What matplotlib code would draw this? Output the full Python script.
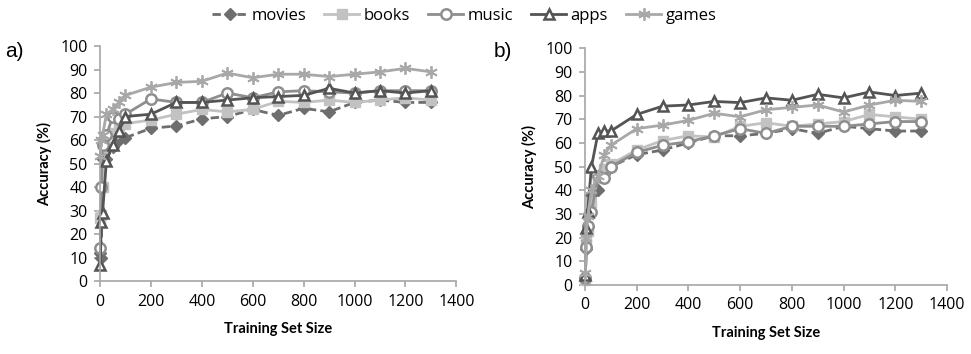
import matplotlib
matplotlib.use("Agg")
import matplotlib.pyplot as plt

# training set sizes shared by both panels
sizes = [1, 5, 10, 25, 50, 75, 100, 200, 300, 400, 500, 600, 700, 800, 900,
         1000, 1100, 1200, 1300]

# panel a)
a_movies = [12, 10, 52, 52, 57, 60, 61, 65, 66, 69, 70, 73, 70.5, 73.5, 72, 76, 77, 76, 76]
a_books = [27, 28, 40, 57, 63, 66, 67, 68.5, 71, 73, 72, 73, 76.5, 76, 77, 76, 77, 78, 77]
a_music = [14, 40, 58, 62, 70, 69, 71, 77.5, 76, 76, 80, 78, 80.5, 81, 80.5, 80, 81, 81, 81]
a_apps = [7, 25, 29, 51, 58, 64, 70, 71, 76, 76, 77, 78, 78.5, 79, 82, 80, 81, 80, 81]
a_games = [53, 60, 62, 71, 73, 76, 79, 82.5, 84.5, 85, 88.5, 86.5, 88, 88, 87, 88, 89, 90.5, 89]

# panel b)
b_movies = [3, 15, 25, 38, 40, 47, 50, 55, 57, 60, 63, 63, 64, 66, 64, 67, 66, 65, 65]
b_books = [2, 18, 23, 35, 45, 49, 51, 57, 61, 63, 62.5, 67, 68.5, 67, 68, 69, 72, 71, 70]
b_music = [3, 16, 25, 31, 46, 45, 50, 56, 59, 60.5, 63, 66, 64, 67, 67, 67, 68, 69, 69]
b_apps = [4, 24, 31, 50, 64, 65, 65, 72, 75.5, 76, 77.5, 77, 79, 78, 80.5, 79, 81.5, 80, 81]
b_games = [5, 20, 29, 40, 46, 55, 59, 66, 67.5, 69.5, 72.5, 71, 74, 75, 76, 73, 76, 78, 77.5]

names = ["movies", "books", "music", "apps", "games"]
styles = {
    "movies": dict(color="#6e6e6e", ls=(0, (3, 1.5)), marker="D", ms=6, mfc="#6e6e6e", mec="#6e6e6e"),
    "books": dict(color="#c2c2c2", ls="-", marker="s", ms=7, mfc="#c2c2c2", mec="#c2c2c2"),
    "music": dict(color="#8e8e8e", ls="-", marker="o", ms=7.5, mfc="white", mec="#8e8e8e", mew=1.8),
    "apps": dict(color="#545454", ls="-", marker="^", ms=7.5, mfc="white", mec="#545454", mew=1.8),
    "games": dict(color="#a8a8a8", ls="-", marker=(6, 2, 0), ms=9, mec="#a8a8a8", mew=1.3),
}

fig = plt.figure(figsize=(9.71, 3.54), dpi=100)
ax_a = fig.add_axes([0.103, 0.206, 0.367, 0.664])
ax_b = fig.add_axes([0.6025, 0.195, 0.3728, 0.669])

panels = [
    (ax_a, [a_movies, a_books, a_music, a_apps, a_games]),
    (ax_b, [b_movies, b_books, b_music, b_apps, b_games]),
]

tick_font = "Open Sans"
for ax, series in panels:
    for name, vals in zip(names, series):
        ax.plot(sizes, vals, lw=2.0, label=name, clip_on=False, **styles[name])
    ax.set_xlim(0, 1400)
    ax.set_ylim(0, 100)
    ax.set_xticks(range(0, 1401, 200))
    ax.set_yticks(range(0, 101, 10))
    for side in ("top", "right"):
        ax.spines[side].set_visible(False)
    for side in ("left", "bottom"):
        ax.spines[side].set_color("#a6a6a6")
        ax.spines[side].set_linewidth(1.2)
    ax.tick_params(colors="#a6a6a6", labelcolor="black", length=4, width=1.2,
                   labelsize=11.5, pad=5)
    for lab in ax.get_xticklabels() + ax.get_yticklabels():
        lab.set_fontfamily(tick_font)
    ax.set_ylabel("Accuracy (%)", fontsize=10.5, fontweight="bold", family="Lato", labelpad=6)
    ax.set_xlabel("Training Set Size", fontsize=10.5, fontweight="bold", family="Lato", labelpad=9)

fig.text(0.005, 0.84, "a)", fontsize=15, family="Liberation Sans")
fig.text(0.508, 0.84, "b)", fontsize=15, family="Liberation Sans")

handles, labels = ax_a.get_legend_handles_labels()
fig.legend(handles, labels, loc="upper center", bbox_to_anchor=(0.478, 1.02), ncol=5,
           frameon=False, prop={"family": tick_font, "size": 12}, handlelength=2.1,
           columnspacing=1.1, handletextpad=0.25)

fig.savefig("out.png", dpi=100)
